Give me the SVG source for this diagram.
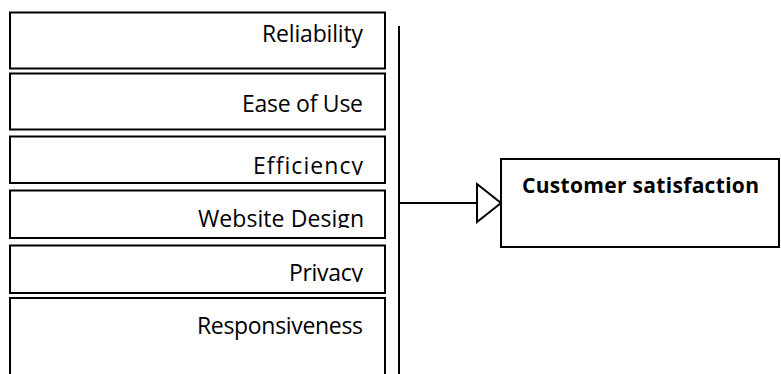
<svg xmlns="http://www.w3.org/2000/svg" width="781" height="374" viewBox="0 0 781 374">
  <style>
    .box { fill: #ffffff; stroke: #000000; stroke-width: 2; }
    .lbl { font-family: "Open Sans", "Liberation Sans", Arial, sans-serif; font-size: 23px; font-variant-ligatures: none; fill: #000000; text-anchor: end; }
    .title { font-family: "Open Sans", "Liberation Sans", Arial, sans-serif; font-size: 21px; font-weight: bold; fill: #000000; }
    .wire { fill: none; stroke: #000000; stroke-width: 2; }
  </style>
  <defs>
    <!-- text areas that cut off descenders at the line's baseline -->
    <clipPath id="c3"><rect x="10" y="137" width="375" height="38"/></clipPath>
    <clipPath id="c4"><rect x="10" y="191" width="375" height="37"/></clipPath>
    <clipPath id="c5"><rect x="10" y="246" width="375" height="36"/></clipPath>
  </defs>
  <rect width="781" height="374" fill="#ffffff"/>

  <!-- factor boxes -->
  <g id="reliability">
    <rect class="box" x="10" y="12.5" width="375" height="56"/>
    <text class="lbl" x="363" y="41.5" textLength="101">Reliability</text>
  </g>
  <g id="ease-of-use">
    <rect class="box" x="10" y="73.5" width="375" height="56"/>
    <text class="lbl" x="363" y="111.5" textLength="121">Ease of Use</text>
  </g>
  <g id="efficiency">
    <rect class="box" x="10" y="136.5" width="375" height="46.5"/>
    <text class="lbl" x="363" y="173.5" textLength="110" clip-path="url(#c3)">Efficiency</text>
  </g>
  <g id="website-design">
    <rect class="box" x="10" y="190.5" width="375" height="47.5"/>
    <text class="lbl" x="364" y="226.5" textLength="166" clip-path="url(#c4)">Website Design</text>
  </g>
  <g id="privacy">
    <rect class="box" x="10" y="245.5" width="375" height="47.5"/>
    <text class="lbl" x="363" y="280.5" textLength="74" clip-path="url(#c5)">Privacy</text>
  </g>
  <g id="responsiveness">
    <rect class="box" x="10" y="298" width="375" height="82"/>
    <text class="lbl" x="363" y="333.5" textLength="166">Responsiveness</text>
  </g>

  <!-- target box -->
  <g id="customer-satisfaction">
    <rect class="box" x="501" y="159" width="278" height="88"/>
    <text class="title" x="522" y="193" textLength="237">Customer satisfaction</text>
  </g>

  <!-- connectors -->
  <g id="connectors">
    <line class="wire" x1="399" y1="26" x2="399" y2="380"/>
    <line class="wire" x1="399" y1="203" x2="477" y2="203"/>
    <polygon points="477,184 501,203 477,222" fill="#ffffff" stroke="#000000" stroke-width="2"/>
  </g>
</svg>
